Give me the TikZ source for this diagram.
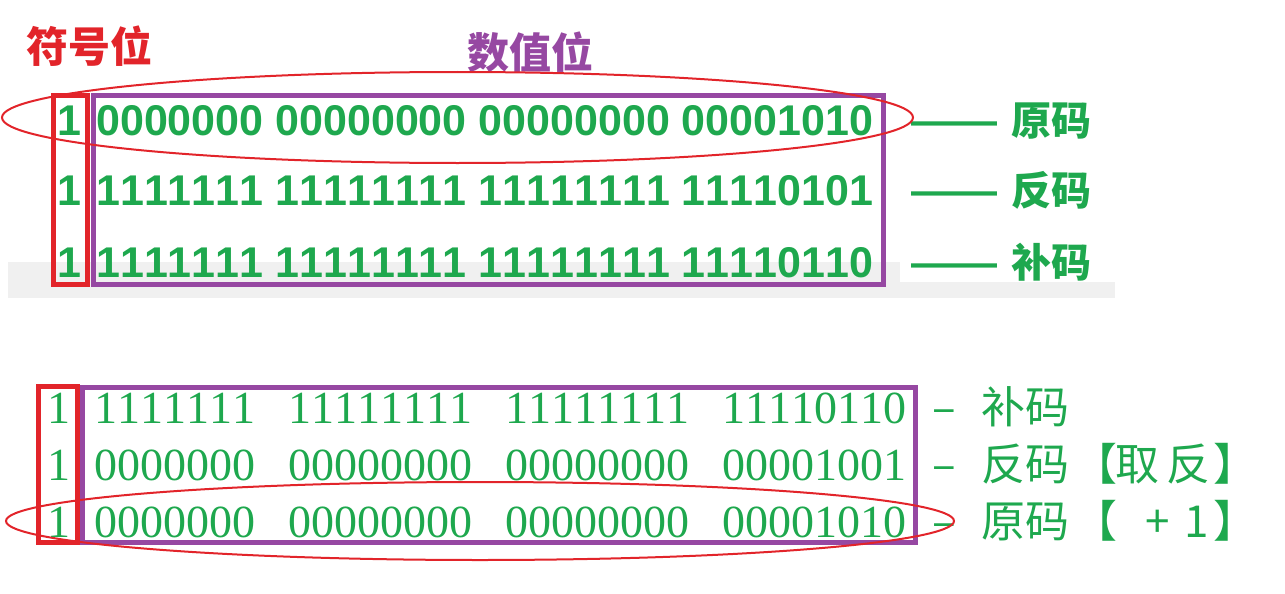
\documentclass[tikz,border=0pt]{standalone}
\usepackage{fontspec}
\newfontfamily\cjk{Noto Sans CJK SC}
\newfontfamily\heinum{Liberation Sans}[Kerning=Off]
\newfontfamily\songnum{Liberation Serif}[Kerning=Off]
\definecolor{bitgreen}{RGB}{30,168,78}
\definecolor{signred}{RGB}{226,36,42}
\definecolor{valpurple}{RGB}{150,72,162}
\definecolor{bandgray}{RGB}{240,240,240}
\tikzset{
  boldrow/.style={anchor=base west,inner sep=0pt,text=bitgreen,font=\heinum\bfseries\fontsize{43}{43}\selectfont},
  serifrow/.style={anchor=base west,inner sep=0pt,text=bitgreen,font=\songnum\fontsize{46}{46}\selectfont},
  boldtag/.style={anchor=base west,inner sep=0pt,text=bitgreen,font=\cjk\bfseries\fontsize{40}{40}\selectfont},
  thintag/.style={anchor=base west,inner sep=0pt,text=bitgreen,font=\cjk\fontsize{44}{44}\selectfont},
  title/.style={inner sep=0pt,font=\cjk\bfseries\fontsize{42}{42}\selectfont},
  signbox/.style={draw=signred,line width=5pt},
  valbox/.style={draw=valpurple,line width=5pt},
  ring/.style={draw=signred,line width=2pt}
}
\newcommand{\gp}{\hspace{0.72em}}
% long dash in front of the top tags
\newcommand{\longdash}{{\heinum\bfseries\fontsize{43}{43}\selectfont ——}\hspace{14pt}}
% a glyph centred on a point, d after the previous one
\newcommand{\putch}[2]{\hspace{#1pt}\makebox[0pt]{#2}}
\begin{document}
\begin{tikzpicture}[x=1pt,y=-1pt]
\useasboundingbox (0,0) rectangle (1285,594);
% grey band behind the top rows
\fill[bandgray] (8,262) rectangle (900,298);
\fill[bandgray] (900,282) rectangle (1115,298);

% titles
\node[title,text=signred] (signtitle) at (90,46) {符号位};
\node[title,text=valpurple] (valtitle) at (530,52) {数值位};

% top rows: original, inverted, complement
\node[boldrow] (s1) at (57,135) {1};
\node[boldrow] (r1) at (96,135) {0000000 00000000 00000000 00001010};
\node[boldtag] (t1) at (911,135) {\longdash 原码};
\node[boldrow] (s2) at (57,205) {1};
\node[boldrow] (r2) at (96,205) {1111111 11111111 11111111 11110101};
\node[boldtag] (t2) at (911,205) {\longdash 反码};
\node[boldrow] (s3) at (57,277) {1};
\node[boldrow] (r3) at (96,277) {1111111 11111111 11111111 11110110};
\node[boldtag] (t3) at (911,277) {\longdash 补码};

\draw[signbox] (53.5,95.5) rectangle (87.5,284.5);
\draw[valbox] (93,95.5) rectangle (883.5,284.5);
\draw[ring] (457.5,117.5) ellipse [x radius=455.5, y radius=45.5];

% bottom rows: complement back to original
\node[serifrow] (b1) at (47,423) {1};
\node[serifrow] (q1) at (94,423) {1111111\gp 11111111\gp 11111111\gp 11110110};
\node[thintag] (u1) at (932,423) {\makebox[49pt][l]{–}补码};
\node[serifrow] (b2) at (47,480) {1};
\node[serifrow] (q2) at (94,480) {0000000\gp 00000000\gp 00000000\gp 00001001};
\node[thintag] (u2) at (932,480) {\makebox[49pt][l]{–}反码\putch{26}{【}\putch{42}{取}\putch{51}{反}\putch{47}{】}};
\node[serifrow] (b3) at (47,537) {1};
\node[serifrow] (q3) at (94,537) {0000000\gp 00000000\gp 00000000\gp 00001010};
\node[thintag] (u3) at (932,537) {\makebox[49pt][l]{–}原码\putch{26}{【}\putch{63}{+}\putch{39}{1}\putch{38}{】}};

\draw[signbox] (38.5,386.5) rectangle (77.5,542.5);
\draw[valbox] (82.5,387.5) rectangle (915.5,542.5);
\draw[ring] (480,521) ellipse [x radius=474, y radius=39];
\end{tikzpicture}
\end{document}
